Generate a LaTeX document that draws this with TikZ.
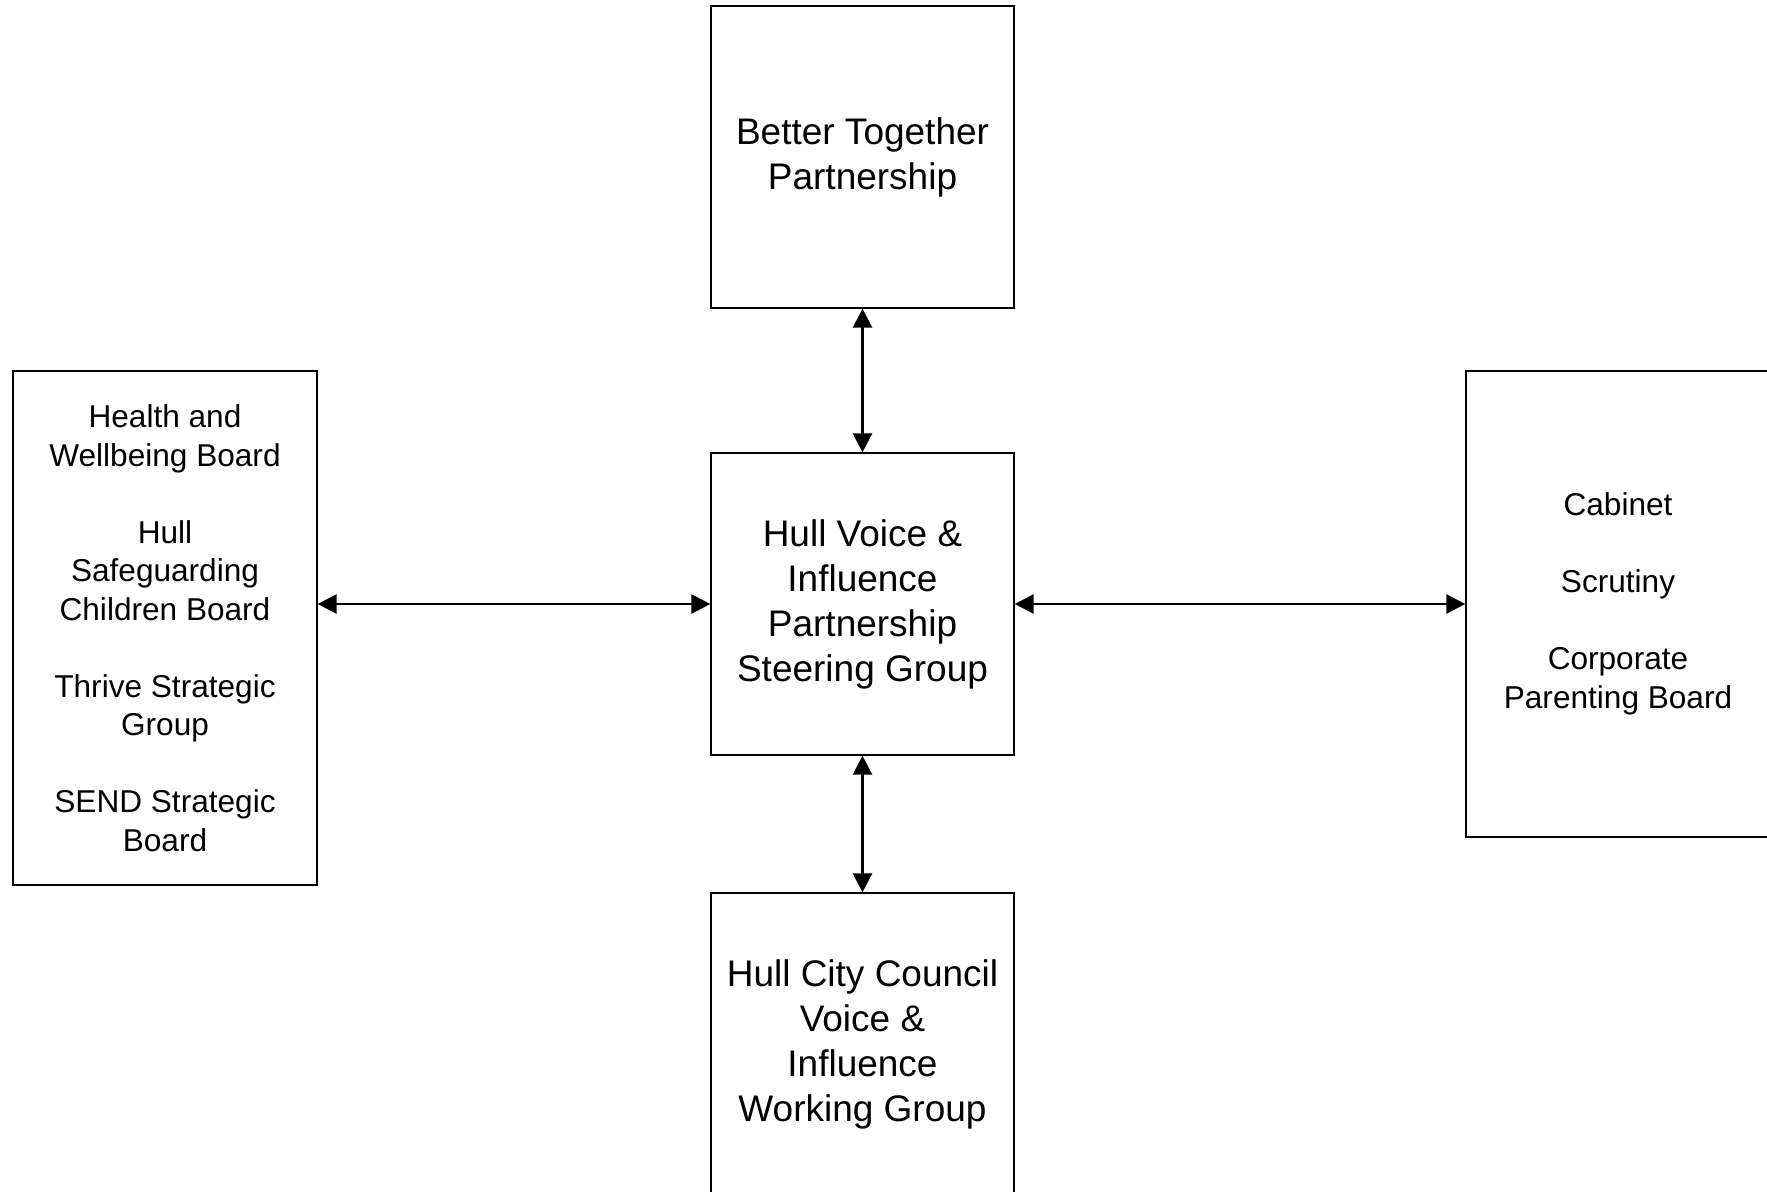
\documentclass[tikz,border=0pt]{standalone}
\usepackage{fontspec}
\setmainfont{Liberation Sans}
\usepackage{tikz}
\usetikzlibrary{arrows.meta}

\tikzset{
	box/.style={draw, line width=0.65pt, align=center, inner sep=0pt},
	bigtext/.style={font=\fontsize{18.5}{22.5}\selectfont},
	smalltext/.style={font=\fontsize{15.8}{19.25}\selectfont},
	link/.style={line width=1.3pt, {Triangle[length=9.5pt,width=9.5pt]}-{Triangle[length=9.5pt,width=9.5pt]}}
}

\begin{document}
\begin{tikzpicture}[x=0.5pt, y=-0.5pt]
		
		\useasboundingbox (0,0) rectangle (1767,1191);
		
		% Draw the boxes
		\node[box, bigtext, minimum width=151.5pt, minimum height=151pt] (T) at (862.5,157) {Better Together\\Partnership};
		\node[box, bigtext, minimum width=151.5pt, minimum height=151pt] (C) at (862.5,604) {Hull Voice \&\\Influence\\Partnership\\Steering Group};
		\node[box, bigtext, minimum width=151.5pt, minimum height=151pt] (B) at (862.5,1044) {Hull City Council\\Voice \&\\Influence\\Working Group};
		\node[box, smalltext, minimum width=152pt, minimum height=257pt] (L) at (165,628) {Health and\\Wellbeing Board\\[\baselineskip]Hull\\Safeguarding\\Children Board\\[\baselineskip]Thrive Strategic\\Group\\[\baselineskip]SEND Strategic\\Board};
		\node[box, smalltext, minimum width=152pt, minimum height=233pt] (R) at (1618,604) {Cabinet\\[\baselineskip]Scrutiny\\[\baselineskip]Corporate\\Parenting Board};
		
		% Draw the two-way links
		\draw[link] (T.south) -- (C.north);
		\draw[link] (C.south) -- (B.north);
		\draw[link] (L.east |- C.west) -- (C.west);
		\draw[link] (C.east) -- (C.east -| R.west);
		
	\end{tikzpicture}
\end{document}
